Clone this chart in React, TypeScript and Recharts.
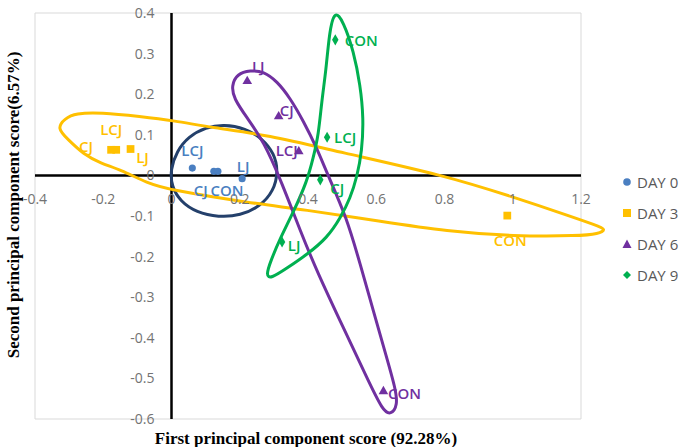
import React from "react";
import {
  ComposedChart,
  Scatter,
  XAxis,
  YAxis,
  CartesianGrid,
  ReferenceLine,
  ReferenceDot,
  LabelList,
  Legend,
  Symbols,
} from "recharts";

const X_TICKS = [-0.4, -0.2, 0, 0.2, 0.4, 0.6, 0.8, 1, 1.2];
const Y_TICKS = [0.4, 0.3, 0.2, 0.1, 0, -0.1, -0.2, -0.3, -0.4, -0.5, -0.6];

// PCA scores per storage day
const DAY0 = [
  { x: 0.061, y: 0.018, label: "LCJ" },
  { x: 0.124, y: 0.01, label: "CJ" },
  { x: 0.136, y: 0.01, label: "CON" },
  { x: 0.207, y: -0.008, label: "LJ" },
];
const DAY3 = [
  { x: -0.177, y: 0.063, label: "CJ" },
  { x: -0.162, y: 0.063, label: "LCJ" },
  { x: -0.12, y: 0.065, label: "LJ" },
  { x: 0.984, y: -0.099, label: "CON" },
];
const DAY6 = [
  { x: 0.222, y: 0.232, label: "LJ" },
  { x: 0.314, y: 0.145, label: "CJ" },
  { x: 0.373, y: 0.059, label: "LCJ" },
  { x: 0.621, y: -0.532, label: "CON" },
];
const DAY9 = [
  { x: 0.48, y: 0.334, label: "CON" },
  { x: 0.456, y: 0.094, label: "LCJ" },
  { x: 0.436, y: -0.011, label: "CJ" },
  { x: 0.324, y: -0.164, label: "LJ" },
];

// hand-drawn group outlines
const RING_DAY0 = [
  { x: 0.153, y: 0.126 }, { x: 0.217, y: 0.116 }, { x: 0.266, y: 0.091 },
  { x: 0.301, y: 0.054 }, { x: 0.313, y: 0.01 }, { x: 0.299, y: -0.039 },
  { x: 0.26, y: -0.076 }, { x: 0.202, y: -0.099 }, { x: 0.138, y: -0.103 },
  { x: 0.073, y: -0.091 }, { x: 0.026, y: -0.064 }, { x: 0.0, y: -0.027 },
  { x: -0.003, y: 0.015 }, { x: 0.015, y: 0.059 }, { x: 0.05, y: 0.096 },
  { x: 0.1, y: 0.118 },
];
const RING_DAY3 = [
  { x: -0.336, y: 0.116 }, { x: -0.313, y: 0.14 }, { x: -0.281, y: 0.153 },
  { x: -0.208, y: 0.155 }, { x: -0.091, y: 0.145 }, { x: 0.006, y: 0.135 },
  { x: 0.123, y: 0.117 }, { x: 0.28, y: 0.1 }, { x: 0.494, y: 0.057 },
  { x: 0.796, y: 0.001 }, { x: 1.001, y: -0.053 }, { x: 1.177, y: -0.103 },
  { x: 1.241, y: -0.122 }, { x: 1.276, y: -0.133 }, { x: 1.25, y: -0.144 },
  { x: 1.197, y: -0.149 }, { x: 1.001, y: -0.15 }, { x: 0.808, y: -0.138 },
  { x: 0.612, y: -0.113 }, { x: 0.386, y: -0.084 }, { x: 0.231, y: -0.068 },
  { x: -0.003, y: -0.036 }, { x: -0.071, y: -0.019 }, { x: -0.149, y: 0.014 },
  { x: -0.208, y: 0.03 }, { x: -0.258, y: 0.052 }, { x: -0.304, y: 0.089 },
];
const RING_DAY6 = [
  { x: 0.231, y: 0.259 }, { x: 0.27, y: 0.256 }, { x: 0.309, y: 0.232 },
  { x: 0.348, y: 0.19 }, { x: 0.387, y: 0.133 }, { x: 0.426, y: 0.067 },
  { x: 0.456, y: 0.005 }, { x: 0.514, y: -0.105 }, { x: 0.553, y: -0.219 },
  { x: 0.592, y: -0.335 }, { x: 0.631, y: -0.45 }, { x: 0.656, y: -0.524 },
  { x: 0.663, y: -0.566 }, { x: 0.643, y: -0.59 }, { x: 0.619, y: -0.58 },
  { x: 0.573, y: -0.499 }, { x: 0.504, y: -0.376 }, { x: 0.426, y: -0.236 },
  { x: 0.378, y: -0.138 }, { x: 0.322, y: -0.015 }, { x: 0.27, y: 0.084 },
  { x: 0.222, y: 0.141 }, { x: 0.182, y: 0.19 }, { x: 0.176, y: 0.221 },
  { x: 0.192, y: 0.25 },
];
const RING_DAY9 = [
  { x: 0.477, y: 0.409 }, { x: 0.504, y: 0.379 }, { x: 0.534, y: 0.305 },
  { x: 0.553, y: 0.223 }, { x: 0.563, y: 0.141 }, { x: 0.558, y: 0.059 },
  { x: 0.544, y: -0.002 }, { x: 0.524, y: -0.056 }, { x: 0.495, y: -0.105 },
  { x: 0.456, y: -0.154 }, { x: 0.397, y: -0.195 }, { x: 0.339, y: -0.228 },
  { x: 0.29, y: -0.255 }, { x: 0.277, y: -0.246 }, { x: 0.29, y: -0.212 },
  { x: 0.319, y: -0.154 }, { x: 0.358, y: -0.089 }, { x: 0.397, y: -0.015 },
  { x: 0.415, y: 0.042 }, { x: 0.431, y: 0.101 }, { x: 0.44, y: 0.182 },
  { x: 0.453, y: 0.26 }, { x: 0.462, y: 0.348 },
];

const SERIES = [
  { name: "DAY 0", data: DAY0, color: "#4a7fc1", symbol: "circle", size: 40 },
  { name: "DAY 3", data: DAY3, color: "#ffc000", symbol: "square", size: 60 },
  { name: "DAY 6", data: DAY6, color: "#7030a0", symbol: "triangle", size: 40 },
  { name: "DAY 9", data: DAY9, color: "#00b050", symbol: "diamond", size: 36 },
];

const RINGS = [
  { data: RING_DAY0, color: "#24406b" },
  { data: RING_DAY3, color: "#ffc000" },
  { data: RING_DAY6, color: "#7030a0" },
  { data: RING_DAY9, color: "#00b050" },
];

// where each point label sits relative to its marker (px)
const LABEL_OFFSETS: Record<string, Record<string, [number, number]>> = {
  "DAY 0": { LCJ: [0, -18], CJ: [-13, 19], CON: [9, 19], LJ: [1, -13] },
  "DAY 3": { LCJ: [-5, -21], CJ: [-25, -4], LJ: [12, 8], CON: [3, 24] },
  "DAY 6": { LJ: [11, -15], CJ: [8, -7], LCJ: [-12, -1], CON: [21, 2] },
  "DAY 9": { CON: [26, 0], LCJ: [18, 0], CJ: [17, 8], LJ: [12, 3] },
};

const FONT = '"Open Sans", "Noto Sans", sans-serif';
const TICK_COLOR = "#737373";

const makeShape = (type: any, size: number, color: string) => (p: any) =>
  <Symbols cx={p.cx} cy={p.cy} type={type} size={size} fill={color} />;

const noShape = () => <g />;

const makeLabel = (series: string, color: string) => (props: any) => {
  const vb = props.viewBox && props.viewBox.x != null ? props.viewBox : props;
  const cx = (vb.x ?? 0) + (vb.width ?? 0) / 2;
  const cy = (vb.y ?? 0) + (vb.height ?? 0) / 2;
  const off = LABEL_OFFSETS[series]?.[props.value] ?? [0, -14];
  return (
    <text
      x={cx + off[0]}
      y={cy + off[1]}
      textAnchor="middle"
      dominantBaseline="central"
      fill={color}
      fontSize={15}
      fontWeight={600}
      fontFamily={FONT}
    >
      {props.value}
    </text>
  );
};

function LegendMarker({ symbol, color }: { symbol: string; color: string }) {
  return (
    <svg width={10} height={10} style={{ marginRight: 5 }}>
      {symbol === "circle" && <circle cx={5} cy={5} r={3.8} fill={color} />}
      {symbol === "square" && <rect x={1} y={1} width={8} height={8} fill={color} />}
      {symbol === "triangle" && <polygon points="5,0.5 9.5,9 0.5,9" fill={color} />}
      {symbol === "diamond" && <polygon points="5,1 9,5 5,9 1,5" fill={color} />}
    </svg>
  );
}

function LegendBox() {
  return (
    <div style={{ fontFamily: FONT, fontSize: 15, color: "#595959" }}>
      {SERIES.map((s) => (
        <div key={s.name} style={{ height: 31, display: "flex", alignItems: "center" }}>
          <LegendMarker symbol={s.symbol} color={s.color} />
          <span>{s.name}</span>
        </div>
      ))}
    </div>
  );
}

export default function App() {
  return (
    <div
      style={{
        position: "absolute",
        left: 0,
        top: 0,
        width: 682,
        height: 447,
        overflow: "hidden",
        background: "#fff",
      }}
    >
      <style>{`.recharts-wrapper g[clip-path]{clip-path:none !important;}`}</style>
      <ComposedChart
        width={682}
        height={447}
        margin={{ top: 13, right: 101, bottom: 28, left: 35 }}
      >
        <CartesianGrid stroke="#d9d9d9" strokeWidth={1} />
        <XAxis
          type="number"
          dataKey="x"
          domain={[-0.4, 1.2]}
          ticks={X_TICKS}
          allowDataOverflow
          height={0}
          axisLine={false}
          tickLine={false}
          tick={false}
        />
        <YAxis
          type="number"
          dataKey="y"
          domain={[-0.6, 0.4]}
          ticks={Y_TICKS}
          allowDataOverflow
          width={0}
          axisLine={false}
          tickLine={false}
          tick={false}
        />
        <ReferenceLine x={0} stroke="#000" strokeWidth={2.5} />
        <ReferenceLine y={0} stroke="#000" strokeWidth={2.5} />
        {X_TICKS.map((t) => (
          <ReferenceDot
            key={`xt${t}`}
            x={t}
            y={0}
            r={0}
            fill="none"
            stroke="none"
            label={{ value: String(t), position: "bottom", offset: 19, fill: TICK_COLOR, fontSize: 14, fontFamily: FONT }}
          />
        ))}
        {Y_TICKS.map((t) => (
          <ReferenceDot
            key={`yt${t}`}
            x={0}
            y={t}
            r={0}
            fill="none"
            stroke="none"
            label={{ value: String(t), position: "left", offset: 17, fill: TICK_COLOR, fontSize: 14, fontFamily: FONT }}
          />
        ))}
        {SERIES.map((s) => (
          <Scatter
            key={s.name}
            name={s.name}
            data={s.data}
            fill={s.color}
            shape={makeShape(s.symbol, s.size, s.color)}
            isAnimationActive={false}
          >
            <LabelList dataKey="label" content={makeLabel(s.name, s.color)} />
          </Scatter>
        ))}
        {RINGS.map((r, i) => (
          <Scatter
            key={`ring${i}`}
            data={r.data}
            fill={r.color}
            shape={noShape}
            line={{ stroke: r.color, strokeWidth: 3 }}
            lineType="joint"
            lineJointType="basisClosed"
            legendType="none"
            isAnimationActive={false}
          />
        ))}
        <Legend
          layout="vertical"
          align="center"
          verticalAlign="middle"
          wrapperStyle={{ left: 622, top: 166, width: 60 }}
          content={() => <LegendBox />}
        />
      </ComposedChart>
      <div
        style={{
          position: "absolute",
          left: 13,
          top: 205,
          transform: "translate(-50%, -50%) rotate(-90deg)",
          whiteSpace: "nowrap",
          fontFamily: '"Liberation Serif", serif',
          fontWeight: "bold",
          fontSize: 17,
          lineHeight: "17px",
        }}
      >
        Second principal component score(6.57%)
      </div>
      <div
        style={{
          position: "absolute",
          left: 306,
          top: 430,
          transform: "translateX(-50%)",
          whiteSpace: "nowrap",
          fontFamily: '"Liberation Serif", serif',
          fontWeight: "bold",
          fontSize: 17,
          lineHeight: "17px",
        }}
      >
        First principal component score (92.28%)
      </div>
    </div>
  );
}
